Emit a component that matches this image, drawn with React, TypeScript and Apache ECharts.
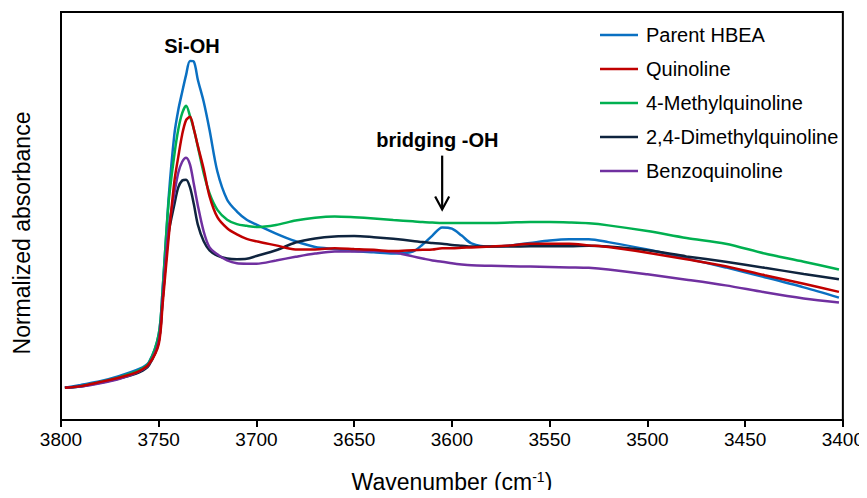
import React, { useEffect, useRef } from "react";
import * as echarts from "echarts";

// Wavenumber sampling points (cm-1), shared by every spectrum
const wavenumbers = [
  3798, 3790, 3780, 3770, 3760, 3755, 3750, 3748, 3745, 3742, 3740, 3738, 3736, 3734, 3732, 3730,
  3727, 3724, 3720, 3715, 3710, 3705, 3700, 3690, 3680, 3670, 3660, 3650, 3640, 3630, 3620, 3615,
  3610, 3605, 3600, 3595, 3590, 3580, 3570, 3560, 3550, 3540, 3530, 3520, 3500, 3480, 3460, 3440,
  3420, 3402,
];

const parentHBEA = [
  0.079, 0.086, 0.095, 0.108, 0.125, 0.142, 0.21, 0.32, 0.54, 0.7, 0.76, 0.804, 0.846, 0.88, 0.878, 0.834,
  0.78, 0.711, 0.609, 0.54, 0.511, 0.491, 0.479, 0.457, 0.438, 0.424, 0.419, 0.414, 0.411, 0.408, 0.413, 0.43,
  0.452, 0.472, 0.469, 0.452, 0.433, 0.425, 0.428, 0.434, 0.44, 0.443, 0.443, 0.436, 0.418, 0.396, 0.374, 0.35,
  0.325, 0.3,
];

const quinoline = [
  0.079, 0.083, 0.093, 0.104, 0.12, 0.137, 0.186, 0.284, 0.443, 0.585, 0.645, 0.7, 0.735, 0.743, 0.712, 0.672,
  0.615, 0.548, 0.497, 0.47, 0.455, 0.444, 0.438, 0.428, 0.418, 0.418, 0.421, 0.419, 0.417, 0.414, 0.416, 0.417,
  0.418, 0.421, 0.421, 0.422, 0.423, 0.425, 0.428, 0.432, 0.432, 0.432, 0.428, 0.424, 0.41, 0.394, 0.377, 0.355,
  0.334, 0.314,
];

const methylquinoline = [
  0.079, 0.083, 0.093, 0.105, 0.122, 0.14, 0.21, 0.32, 0.53, 0.65, 0.712, 0.752, 0.77, 0.745, 0.712, 0.67,
  0.605, 0.555, 0.515, 0.491, 0.48, 0.476, 0.473, 0.478, 0.489, 0.496, 0.499, 0.497, 0.494, 0.49, 0.487, 0.485,
  0.484, 0.483, 0.483, 0.483, 0.483, 0.483, 0.484, 0.485, 0.485, 0.484, 0.482, 0.477, 0.463, 0.446, 0.432, 0.408,
  0.388, 0.369,
];

const dimethylquinoline = [
  0.079, 0.082, 0.091, 0.102, 0.117, 0.134, 0.193, 0.296, 0.455, 0.528, 0.57, 0.587, 0.589, 0.57, 0.528, 0.479,
  0.438, 0.416, 0.403, 0.396, 0.394, 0.395, 0.402, 0.416, 0.435, 0.445, 0.45, 0.451, 0.448, 0.444, 0.439, 0.436,
  0.434, 0.432, 0.429, 0.427, 0.425, 0.425, 0.425, 0.426, 0.426, 0.426, 0.427, 0.425, 0.416, 0.401, 0.388, 0.373,
  0.358, 0.345,
];

const benzoquinoline = [
  0.079, 0.082, 0.09, 0.101, 0.119, 0.137, 0.193, 0.296, 0.467, 0.555, 0.606, 0.633, 0.643, 0.626, 0.577, 0.526,
  0.462, 0.423, 0.406, 0.391, 0.384, 0.383, 0.383, 0.391, 0.4, 0.408, 0.413, 0.413, 0.414, 0.411, 0.401, 0.396,
  0.391, 0.388, 0.384, 0.381, 0.379, 0.378, 0.377, 0.376, 0.375, 0.374, 0.373, 0.369, 0.357, 0.344, 0.33, 0.313,
  0.298, 0.288,
];

const seriesNames = [
  "Parent HBEA",
  "Quinoline",
  "4-Methylquinoline",
  "2,4-Dimethylquinoline",
  "Benzoquinoline",
];

const FONT = "'Liberation Sans', Arial, sans-serif";

const zip = (ys: number[]) => wavenumbers.map((w, i) => [w, ys[i]]);

export default function App() {
  const ref = useRef<HTMLDivElement>(null);

  useEffect(() => {
    if (!ref.current) return;
    const chart = echarts.init(ref.current, undefined, { renderer: "svg" });

    const lineSeries = (name: string, ys: number[], color: string, z: number) => ({
      name,
      type: "line",
      data: zip(ys),
      showSymbol: false,
      symbol: "none",
      smooth: 0.3,
      z,
      lineStyle: { color, width: 2.5 },
      itemStyle: { color },
    });

    chart.setOption({
      animation: false,
      textStyle: { fontFamily: FONT, color: "#000" },
      grid: {
        left: 61,
        right: 24,
        top: 12,
        bottom: 77,
        show: true,
        borderColor: "#000",
        borderWidth: 2,
      },
      legend: {
        data: seriesNames,
        orient: "vertical",
        left: 600,
        top: 25,
        padding: 0,
        icon: "rect",
        itemWidth: 38,
        itemHeight: 2.5,
        itemGap: 14,
        textStyle: { fontFamily: FONT, fontSize: 20, color: "#000", padding: [0, 0, 0, 3] },
      },
      xAxis: {
        type: "value",
        min: 3400,
        max: 3800,
        interval: 50,
        inverse: true,
        name: "Wavenumber (cm{sup|-1})",
        nameLocation: "middle",
        nameGap: 50,
        nameTextStyle: {
          fontFamily: FONT,
          fontSize: 23,
          color: "#000",
          rich: {
            sup: { fontFamily: FONT, fontSize: 14, color: "#000", verticalAlign: "top", lineHeight: 14 },
          },
        },
        axisLine: { onZero: false, lineStyle: { color: "#000", width: 2 } },
        axisTick: { show: true, inside: false, length: 7, lineStyle: { color: "#000", width: 2 } },
        axisLabel: {
          fontFamily: FONT,
          fontSize: 19,
          color: "#000",
          margin: 10,
          formatter: (v: number) => String(v),
        },
        splitLine: { show: false },
      },
      yAxis: {
        type: "value",
        min: 0,
        max: 1,
        name: "Normalized absorbance",
        nameLocation: "middle",
        nameGap: 28,
        nameTextStyle: { fontFamily: FONT, fontSize: 23, color: "#000", padding: [0, 34, 0, 0] },
        axisLine: { show: true, lineStyle: { color: "#000", width: 2 } },
        axisTick: { show: false },
        axisLabel: { show: false },
        splitLine: { show: false },
      },
      series: [
        lineSeries("Parent HBEA", parentHBEA, "#0A70C2", 2),
        lineSeries("4-Methylquinoline", methylquinoline, "#00B050", 3),
        lineSeries("2,4-Dimethylquinoline", dimethylquinoline, "#0F243E", 4),
        lineSeries("Benzoquinoline", benzoquinoline, "#7030A0", 5),
        lineSeries("Quinoline", quinoline, "#C00000", 6),
      ],
    });

    // Peak annotations placed in data coordinates
    const px = (w: number, v: number) =>
      chart.convertToPixel({ xAxisIndex: 0, yAxisIndex: 0 }, [w, v]) as number[];
    const siOH = px(3733, 0.917);
    const bridging = px(3607.5, 0.687);
    const arrowTop = px(3605, 0.648);
    const arrowTip = px(3605, 0.516);

    const boldLabel = (text: string, at: number[]) => ({
      type: "text",
      x: at[0],
      y: at[1],
      style: {
        text,
        fontFamily: FONT,
        fontSize: 20,
        fontWeight: "bold",
        fill: "#000",
        align: "center",
        verticalAlign: "middle",
      },
    });

    chart.setOption({
      graphic: [
        boldLabel("Si-OH", siOH),
        boldLabel("bridging -OH", bridging),
        {
          type: "line",
          shape: { x1: arrowTop[0], y1: arrowTop[1], x2: arrowTip[0], y2: arrowTip[1] - 1 },
          style: { stroke: "#000", lineWidth: 2.2 },
        },
        {
          type: "polyline",
          shape: {
            points: [
              [arrowTip[0] - 7, arrowTip[1] - 13],
              [arrowTip[0], arrowTip[1]],
              [arrowTip[0] + 7, arrowTip[1] - 13],
            ],
          },
          style: { stroke: "#000", lineWidth: 2.2, fill: "none" },
        },
      ],
    });

    return () => chart.dispose();
  }, []);

  return <div ref={ref} style={{ width: 867, height: 498, margin: -8 }} />;
}
